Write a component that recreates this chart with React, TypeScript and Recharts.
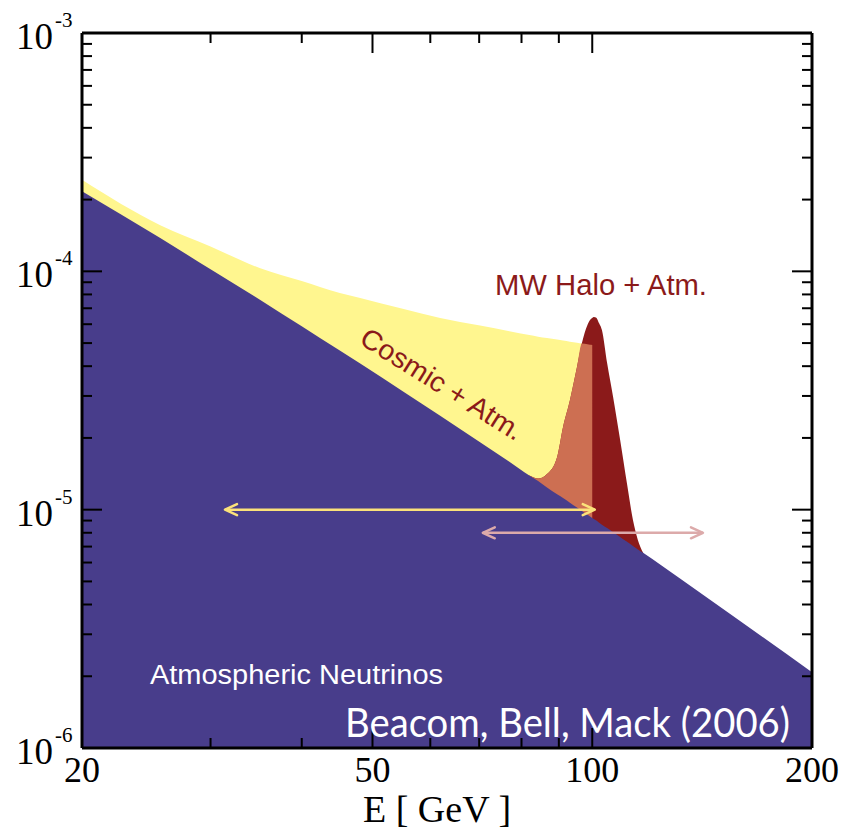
import React from 'react';
import { ComposedChart, Area, Line, XAxis, YAxis } from 'recharts';

// Energy grid (GeV) and fluxes
const energyGeV = [20, 25.6, 30, 35.1, 40, 45.1, 48.1, 55, 61.9, 70.2, 77, 82, 84.3, 86.7, 89.5, 91.2, 93.2, 95.3, 96.8, 98.5, 99.3, 100, 100.5, 101.3, 102, 103.1, 104.8, 106.8, 109.2, 111.6, 113.7, 115.5, 117.4, 131.9, 155.9, 200];

const atmosphericFlux = [2.17e-4, 1.38e-4, 1.02e-4, 7.59e-5, 5.88e-5, 4.65e-5, 4.1e-5, 3.14e-5, 2.48e-5, 1.92e-5, 1.59e-5, 1.39e-5, 1.32e-5, 1.24e-5, 1.16e-5, 1.12e-5, 1.07e-5, 1.02e-5, 9.87e-6, 9.52e-6, 9.37e-6, 9.23e-6, 9.14e-6, 9.0e-6, 8.85e-6, 8.65e-6, 8.37e-6, 8.04e-6, 7.68e-6, 7.33e-6, 7.04e-6, 6.81e-6, 6.59e-6, 5.14e-6, 3.58e-6, 2.08e-6];

const cosmicPlusAtmFlux = [2.42e-4, 1.56e-4, 1.27e-4, 1.03e-4, 9.1e-5, 8.11e-5, 7.73e-5, 6.96e-5, 6.37e-5, 5.92e-5, 5.61e-5, 5.4e-5, 5.32e-5, 5.25e-5, 5.17e-5, 5.12e-5, 5.07e-5, 5.02e-5, 4.98e-5, 4.94e-5, 4.92e-5, 4.91e-5, null, null, null, null, null, null, null, null, null, null, null, null, null, null];

const haloPlusAtmFlux = [null, null, null, null, null, null, null, null, null, null, null, 1.39e-5, 1.35e-5, 1.41e-5, 1.66e-5, 2.22e-5, 2.88e-5, 3.97e-5, 5.0e-5, 5.95e-5, 6.25e-5, 6.37e-5, 6.43e-5, 6.38e-5, 6.12e-5, 5.67e-5, 4.12e-5, 2.97e-5, 1.96e-5, 1.28e-5, 9.04e-6, 7.45e-6, 6.59e-6, null, null, null];

const cosmicArrowEnergy = [31.4, 100.8];
const cosmicArrowFlux = [1e-5, 1e-5];
const haloArrowEnergy = [70.8, 141.8];
const haloArrowFlux = [8e-6, 8e-6];

const xTicks = [20, 30, 40, 50, 60, 70, 80, 90, 100, 200];
const xTickLabels = ['20', '', '', '50', '', '', '', '', '100', '200'];
const xMajorTicks = [50, 100];

const yTicks = [
  1e-6, 2e-6, 3e-6, 4e-6, 5e-6, 6e-6, 7e-6, 8e-6, 9e-6,
  1e-5, 2e-5, 3e-5, 4e-5, 5e-5, 6e-5, 7e-5, 8e-5, 9e-5,
  1e-4, 2e-4, 3e-4, 4e-4, 5e-4, 6e-4, 7e-4, 8e-4, 9e-4,
  1e-3,
];
const yDecadeLabels = ['-6', '-5', '-4', '-3'];
const yDecadeValues = [1e-6, 1e-5, 1e-4, 1e-3];

const COLORS = {
  atm: '#483d8b',
  cosmic: '#fff68f',
  halo: '#8b1a1a',
  overlap: '#cd6f52',
  cosmicArrow: '#fbe27a',
  haloArrow: '#dcaaaa',
};

type Row = {
  E: number;
  atm?: number | null;
  cosmic?: number | null;
  halo?: number | null;
  overlap?: number | null;
  cArrow?: number | null;
  hArrow?: number | null;
};

const rowMap = new Map<number, Row>();
const getRow = (e: number): Row => {
  if (!rowMap.has(e)) rowMap.set(e, { E: e });
  return rowMap.get(e) as Row;
};
energyGeV.forEach((e, i) => {
  const r = getRow(e);
  const c = cosmicPlusAtmFlux[i];
  const h = haloPlusAtmFlux[i];
  r.atm = atmosphericFlux[i];
  r.cosmic = c;
  r.halo = h;
  r.overlap = c != null && h != null ? Math.min(c, h) : null;
});
cosmicArrowEnergy.forEach((e, i) => {
  getRow(e).cArrow = cosmicArrowFlux[i];
});
haloArrowEnergy.forEach((e, i) => {
  getRow(e).hArrow = haloArrowFlux[i];
});
const chartData = Array.from(rowMap.values()).sort((a, b) => a.E - b.E);

const SERIF = "'Liberation Serif', 'Times New Roman', serif";
const SANS = "'Liberation Sans', Arial, sans-serif";

const BottomTick = (props: any) => {
  const { x, y, payload, index } = props;
  const v = payload.value;
  const major = xMajorTicks.includes(v);
  const len = major ? 20 : 10;
  const label = xTickLabels[xTicks.indexOf(v)] || '';
  return (
    <g key={`bt-${index}`}>
      <line x1={x} y1={y} x2={x} y2={y - len} stroke="#000" strokeWidth={2} />
      {label && (
        <text x={x} y={y + 34} textAnchor="middle" fontFamily={SERIF} fontSize={36} fill="#000">
          {label}
        </text>
      )}
    </g>
  );
};

const TopTick = (props: any) => {
  const { x, y, payload, index } = props;
  const v = payload.value;
  const major = xMajorTicks.includes(v);
  const len = major ? 20 : 10;
  return <line key={`tt-${index}`} x1={x} y1={y} x2={x} y2={y + len} stroke="#000" strokeWidth={2} />;
};

const decadeIndex = (v: number) => yDecadeValues.findIndex((d) => Math.abs(v / d - 1) < 1e-6);

const LeftTick = (props: any) => {
  const { x, y, payload, index } = props;
  const di = decadeIndex(payload.value);
  const len = di >= 0 ? 20 : 10;
  return (
    <g key={`lt-${index}`}>
      <line x1={x} y1={y} x2={x + len} y2={y} stroke="#000" strokeWidth={2} />
      {di >= 0 && (
        <g>
          <text x={x - 29} y={y + 16} textAnchor="end" fontFamily={SERIF} fontSize={37} fill="#000">
            10
          </text>
          <text x={x - 27} y={y - 6} textAnchor="start" fontFamily={SERIF} fontSize={21} fill="#000">
            {yDecadeLabels[di]}
          </text>
        </g>
      )}
    </g>
  );
};

const RightTick = (props: any) => {
  const { x, y, payload, index } = props;
  const di = decadeIndex(payload.value);
  const len = di >= 0 ? 20 : 10;
  return <line key={`rt-${index}`} x1={x} y1={y} x2={x - len} y2={y} stroke="#000" strokeWidth={2} />;
};

const makeArrowDot = (ends: number[], color: string) => (props: any) => {
  const { cx, cy, payload, index, value } = props;
  if (cx == null || cy == null || value == null || payload == null || (payload.E !== ends[0] && payload.E !== ends[1])) {
    return <g key={`ad-${index}`} />;
  }
  const dir = payload.E === ends[0] ? -1 : 1;
  return (
    <path
      key={`ad-${index}`}
      d={`M ${cx - dir * 12} ${cy - 5.5} L ${cx} ${cy} L ${cx - dir * 12} ${cy + 5.5}`}
      fill="none"
      stroke={color}
      strokeWidth={2.5}
      strokeLinecap="round"
      strokeLinejoin="round"
    />
  );
};

const axisLineStyle = { stroke: '#000', strokeWidth: 3 };

export default function App() {
  return (
    <div style={{ position: 'absolute', left: 0, top: 0, width: 845, height: 830, background: '#fff' }}>
      <ComposedChart
        width={845}
        height={830}
        data={chartData}
        margin={{ top: 32, right: 32, bottom: 81, left: 81 }}
      >
        <Area xAxisId="b" yAxisId="l" type="monotone" dataKey="cosmic" fill={COLORS.cosmic} fillOpacity={1} stroke="none" baseValue={1e-6} connectNulls isAnimationActive={false} dot={false} activeDot={false} />
        <Area xAxisId="b" yAxisId="l" type="monotone" dataKey="halo" fill={COLORS.halo} fillOpacity={1} stroke="none" baseValue={1e-6} connectNulls isAnimationActive={false} dot={false} activeDot={false} />
        <Area xAxisId="b" yAxisId="l" type="monotone" dataKey="overlap" fill={COLORS.overlap} fillOpacity={1} stroke="none" baseValue={1e-6} connectNulls isAnimationActive={false} dot={false} activeDot={false} />
        <Area xAxisId="b" yAxisId="l" type="monotone" dataKey="atm" fill={COLORS.atm} fillOpacity={1} stroke="none" baseValue={1e-6} connectNulls isAnimationActive={false} dot={false} activeDot={false} />
        <Line xAxisId="b" yAxisId="l" type="linear" dataKey="cArrow" stroke={COLORS.cosmicArrow} strokeWidth={2.5} connectNulls isAnimationActive={false} dot={makeArrowDot(cosmicArrowEnergy, COLORS.cosmicArrow)} activeDot={false} />
        <Line xAxisId="b" yAxisId="l" type="linear" dataKey="hArrow" stroke={COLORS.haloArrow} strokeWidth={2.5} connectNulls isAnimationActive={false} dot={makeArrowDot(haloArrowEnergy, COLORS.haloArrow)} activeDot={false} />

        <XAxis xAxisId="b" dataKey="E" type="number" scale="log" domain={[20, 200]} allowDataOverflow ticks={xTicks} interval={0} height={1} tickSize={0} tickMargin={0} axisLine={axisLineStyle} tickLine={false} tick={(p: any) => <BottomTick {...p} />} orientation="bottom" />
        <XAxis xAxisId="t" dataKey="E" type="number" scale="log" domain={[20, 200]} allowDataOverflow ticks={xTicks} interval={0} height={1} tickSize={0} tickMargin={0} axisLine={axisLineStyle} tickLine={false} tick={(p: any) => <TopTick {...p} />} orientation="top" />
        <YAxis yAxisId="l" type="number" scale="log" domain={[1e-6, 1e-3]} allowDataOverflow ticks={yTicks} interval={0} width={1} tickSize={0} tickMargin={0} axisLine={axisLineStyle} tickLine={false} tick={(p: any) => <LeftTick {...p} />} orientation="left" />
        <YAxis yAxisId="r" type="number" scale="log" domain={[1e-6, 1e-3]} allowDataOverflow ticks={yTicks} interval={0} width={1} tickSize={0} tickMargin={0} axisLine={axisLineStyle} tickLine={false} tick={(p: any) => <RightTick {...p} />} orientation="right" />
      </ComposedChart>
      <svg width={845} height={830} style={{ position: 'absolute', left: 0, top: 0, pointerEvents: 'none' }}>
        <text x={495} y={295} fontFamily={SANS} fontSize={29} fill={COLORS.halo} textLength={212} lengthAdjust="spacingAndGlyphs">
          MW Halo + Atm.
        </text>
        <text x={358} y={343} fontFamily={SANS} fontSize={28} fill={COLORS.halo} transform="rotate(32 358 343)" textLength={186} lengthAdjust="spacingAndGlyphs">
          Cosmic + Atm.
        </text>
        <text x={150} y={684} fontFamily={SANS} fontSize={27} fill="#fff" textLength={293} lengthAdjust="spacingAndGlyphs">
          Atmospheric Neutrinos
        </text>
        <text x={345} y={737} fontFamily="Lato, 'Open Sans', sans-serif" fontSize={40} fill="#fff" textLength={445} lengthAdjust="spacingAndGlyphs">
          Beacom, Bell, Mack (2006)
        </text>
        <text x={437} y={822} textAnchor="middle" fontFamily={SERIF} fontSize={38} fill="#000">
          E [ GeV ]
        </text>
      </svg>
    </div>
  );
}
